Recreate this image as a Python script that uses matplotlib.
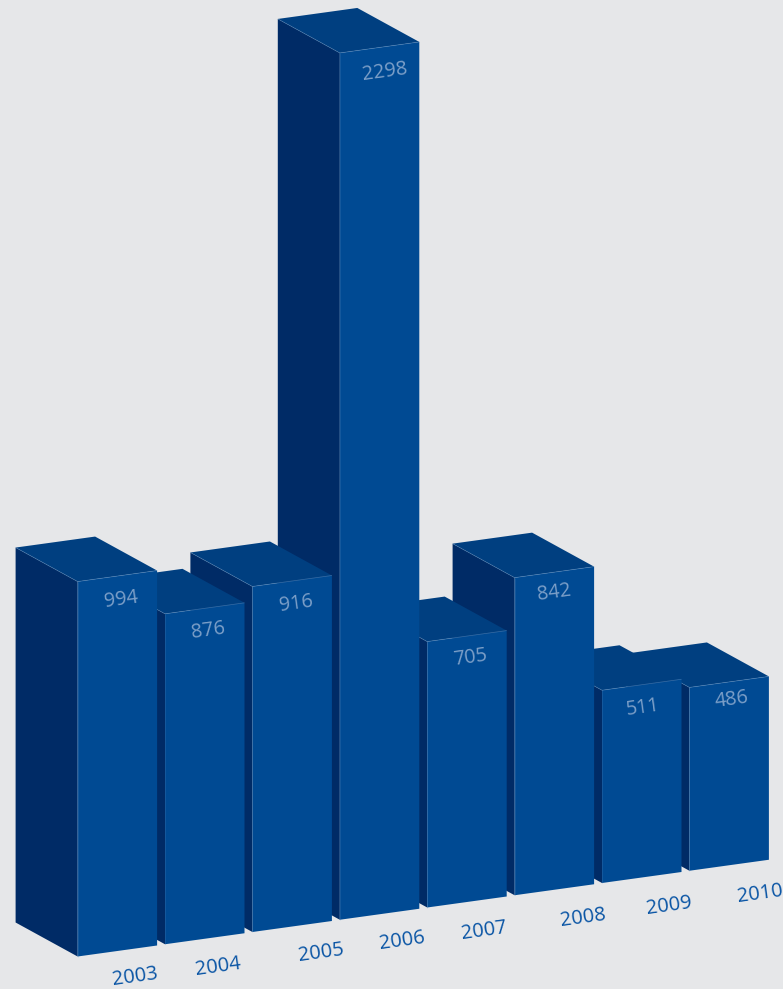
import numpy as np
import matplotlib
matplotlib.use("Agg")
import matplotlib.pyplot as plt

# Yearly values
years = ["2003", "2004", "2005", "2006", "2007", "2008", "2009", "2010"]
values = [994, 876, 916, 2298, 705, 842, 511, 486]

# Small shifts of the text, in pixels
value_nudge = [(4, 24), (3, 22), (4, 23), (5, 24), (3, 22), (0, 21), (1, 23), (3, 18)]
year_nudge = [(18, 26), (13, 28), (29, 26), (23, 27), (17, 29), (29, 28), (27, 28), (31, 29)]

# Oblique projection settings
origin = np.array([77.6, 956.5])
step = np.array([87.4, -12.25])
width = np.array([79.5, -11.0])
depth = np.array([-62.0, -34.0])
px_per_unit = 0.3772
angle = 7.9

bg = "#e6e7e9"
front_col = "#004a93"
side_col = "#002b66"
top_col = "#003f80"
edge_col = "#5f8fc0"
value_col = "#7c9fc8"
year_col = "#0a55a5"

fig = plt.figure(figsize=(7.83, 9.89), dpi=100, facecolor=bg)
ax = fig.add_axes([0, 0, 1, 1])
ax.set_xlim(0, 783)
ax.set_ylim(989, 0)
ax.axis("off")


def draw_bar(i, value, z):
    base = origin + step * i
    up = np.array([0, -value * px_per_unit])
    fl = base + up
    fr = fl + width
    bl = fl + depth
    br = fr + depth

    side = np.array([base, fl, bl, base + depth])
    front = np.array([base, base + width, fr, fl])
    top = np.array([fl, fr, br, bl])

    ax.fill(side[:, 0], side[:, 1], color=side_col, lw=0, zorder=z)
    ax.fill(top[:, 0], top[:, 1], color=top_col, lw=0, zorder=z)
    ax.fill(front[:, 0], front[:, 1], color=front_col, lw=0, zorder=z)

    # thin highlights along the box edges
    for a, b, alpha in [(fl, fr, 0.6), (fl, bl, 0.5), (fl, base, 0.3)]:
        ax.plot([a[0], b[0]], [a[1], b[1]], color=edge_col, lw=0.5, alpha=alpha,
                solid_capstyle="butt", zorder=z)


# right to left, so the left hand bars sit in front
for z, i in enumerate(range(len(values) - 1, -1, -1)):
    draw_bar(i, values[i], z + 1)

for i, (year, value) in enumerate(zip(years, values)):
    base = origin + step * i
    mid = base + width / 2
    ax.text(mid[0] + value_nudge[i][0], mid[1] - value * px_per_unit + value_nudge[i][1],
            str(value), color=value_col, fontsize=14.3, family="Open Sans",
            rotation=angle, rotation_mode="anchor", ha="center", va="center", zorder=20)
    ax.text(mid[0] + year_nudge[i][0], mid[1] + year_nudge[i][1], year,
            color=year_col, fontsize=14.4, family="Open Sans",
            rotation=angle, rotation_mode="anchor", ha="center", va="center", zorder=20)

fig.savefig("out.png", dpi=100, facecolor=bg)
